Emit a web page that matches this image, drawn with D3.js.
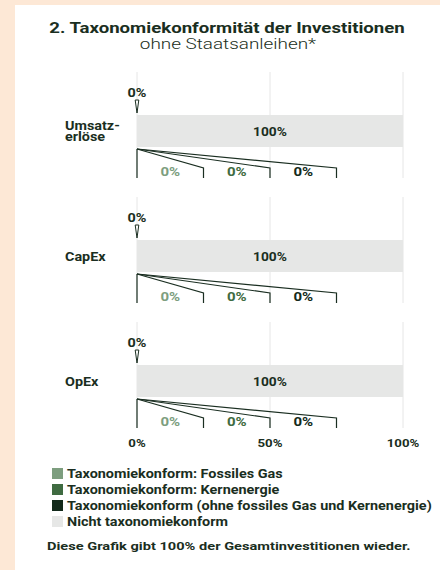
<!DOCTYPE html>
<html lang="de">
<head>
  <meta charset="utf-8">
  <title>Taxonomiekonformität der Investitionen</title>
  <script src="https://cdn.jsdelivr.net/npm/d3@7"></script>
  <style>
    body { margin: 0; background: #fde8d6; }
    svg { display: block; font-family: Roboto, "Noto Sans", sans-serif; }
  </style>
</head>
<body>
  <div class="chart"></div>

  <script>
    var w = 440,
      h = 570;

    // data
    var categories = ["Umsatzerlöse", "CapEx", "OpEx"];
    var categoryLines = [["Umsatz-", "erlöse"], ["CapEx"], ["OpEx"]];
    var conformTotal = [0, 0, 0];
    var notConform = [100, 100, 100];
    var fossilGas = [0, 0, 0];
    var nuclear = [0, 0, 0];
    var otherConform = [0, 0, 0];
    var xTicks = [0, 50, 100];

    var legendLabels = [
      "Taxonomiekonform: Fossiles Gas",
      "Taxonomiekonform: Kernenergie",
      "Taxonomiekonform (ohne fossiles Gas und Kernenergie)",
      "Nicht taxonomiekonform"
    ];
    var colors = ["#7d9e7f", "#3f6b41", "#132a1b", "#e6e7e6"];
    var dark = "#1a2e21";

    // the original typeface runs wider than Roboto, so widen the glyphs a bit
    var stretch = function(sel, k) {
      sel.each(function() {
        var len = this.getComputedTextLength();
        d3.select(this)
          .attr("textLength", len * k)
          .attr("lengthAdjust", "spacingAndGlyphs");
      });
      return sel;
    }

    var svg = d3.select(".chart")
      .append("svg")
      .attr("width", w)
      .attr("height", h);

    // white card
    svg.append("rect")
      .attr("x", 15).attr("y", 5)
      .attr("width", w - 15).attr("height", h - 5)
      .attr("fill", "#fff");

    stretch(svg.append("text")
      .attr("x", 227).attr("y", 33)
      .attr("text-anchor", "middle")
      .attr("font-size", 15.5).attr("font-weight", 700)
      .attr("fill", dark)
      .text("2. Taxonomiekonformität der Investitionen"), 1.2);

    stretch(svg.append("text")
      .attr("x", 228).attr("y", 48.5)
      .attr("text-anchor", "middle")
      .attr("font-size", 14).attr("font-weight", 300)
      .attr("fill", dark)
      .text("ohne Staatsanleihen*"), 1.35);

    var x = d3.scaleLinear().domain([0, 100]).range([137, 403]);
    var y = d3.scaleBand().domain(categories).range([72, 428]).paddingInner(0.152);

    // breakdown slots under each bar (each takes a quarter of the axis)
    var slots = [
      { key: "gas", values: fossilGas, from: 0, to: 25, color: colors[0] },
      { key: "nuc", values: nuclear, from: 25, to: 50, color: colors[1] },
      { key: "oth", values: otherConform, from: 50, to: 75, color: colors[2] }
    ];

    categories.forEach(function(cat, i) {
      var top = y(cat);
      var g = svg.append("g");

      // gridlines
      g.selectAll("line.grid")
        .data(xTicks)
        .enter()
        .append("line")
        .attr("x1", d => x(d)).attr("x2", d => x(d))
        .attr("y1", top).attr("y2", top + y.bandwidth())
        .attr("stroke", "#e6e6e6").attr("stroke-width", 1);

      var barTop = top + 43,
        barH = 32;

      // non conform bar
      g.append("rect")
        .attr("x", x(conformTotal[i]))
        .attr("y", barTop)
        .attr("width", x(conformTotal[i] + notConform[i]) - x(conformTotal[i]))
        .attr("height", barH)
        .attr("fill", colors[3]);

      g.append("rect")
        .attr("x", x(0))
        .attr("y", barTop)
        .attr("width", x(conformTotal[i]) - x(0))
        .attr("height", barH)
        .attr("fill", colors[2]);

      stretch(g.append("text")
        .attr("x", x(conformTotal[i] + notConform[i] / 2))
        .attr("y", barTop + barH / 2 + 4.5)
        .attr("text-anchor", "middle")
        .attr("font-size", 12.5).attr("font-weight", 700)
        .attr("fill", dark)
        .text(notConform[i] + "%"), 1.1);

      // marker for conform share
      var mx = x(conformTotal[i] / 2);
      g.append("path")
        .attr("d", "M" + (mx - 1.8) + "," + (top + 28) + "L" + (mx + 1.8) + "," + (top + 28) + "L" + mx + "," + (top + 41) + "Z")
        .attr("fill", "#fff").attr("stroke", dark).attr("stroke-width", 1);
      stretch(g.append("text")
        .attr("x", mx).attr("y", top + 25)
        .attr("text-anchor", "middle")
        .attr("font-size", 12).attr("font-weight", 700)
        .attr("fill", dark)
        .text(conformTotal[i] + "%"), 1.2);

      // category label
      var lines = categoryLines[i];
      var ly = barTop + barH / 2 + 4.5 - (lines.length - 1) * 5.5;
      lines.forEach(function(t, k) {
        stretch(g.append("text")
          .attr("x", 65).attr("y", ly + k * 10.5)
          .attr("font-size", 12.5).attr("font-weight", 700)
          .attr("fill", dark)
          .text(t), 1.15);
      });

      // breakdown fan
      var ox = x(0),
        oy = barTop + barH + 2,
        bottom = top + y.bandwidth();

      g.append("line")
        .attr("x1", ox).attr("x2", ox)
        .attr("y1", oy).attr("y2", bottom)
        .attr("stroke", dark).attr("stroke-width", 1.2);

      slots.forEach(function(s) {
        var ey = oy + 19;
        g.append("path")
          .attr("d", "M" + ox + "," + oy + "L" + x(s.to) + "," + ey + "L" + x(s.to) + "," + bottom)
          .attr("fill", "none")
          .attr("stroke", dark).attr("stroke-width", 1.2);
        stretch(g.append("text")
          .attr("x", x((s.from + s.to) / 2))
          .attr("y", top + 104)
          .attr("text-anchor", "middle")
          .attr("font-size", 12.5).attr("font-weight", 700)
          .attr("fill", s.color)
          .text(s.values[i] + "%"), 1.2);
      });
    });

    // x axis labels
    stretch(svg.selectAll("text.tick")
      .data(xTicks)
      .enter()
      .append("text")
      .attr("x", d => x(d)).attr("y", 447)
      .attr("text-anchor", "middle")
      .attr("font-size", 11.5).attr("font-weight", 700)
      .attr("fill", dark)
      .text(d => d + "%"), 1.15);

    // legend
    var leg = svg.selectAll("g.legend")
      .data(legendLabels)
      .enter()
      .append("g")
      .attr("transform", (d, i) => "translate(52," + (468 + i * 16) + ")");

    leg.append("rect")
      .attr("width", 11).attr("height", 11)
      .attr("fill", (d, i) => colors[i]);

    stretch(leg.append("text")
      .attr("x", 15).attr("y", 10)
      .attr("font-size", 12).attr("font-weight", 700)
      .attr("fill", dark)
      .text(d => d), 1.2);

    stretch(svg.append("text")
      .attr("x", 47).attr("y", 550)
      .attr("font-size", 11.5).attr("font-weight", 700)
      .attr("fill", dark)
      .text("Diese Grafik gibt 100% der Gesamtinvestitionen wieder."), 1.27);
  </script>
</body>
</html>
